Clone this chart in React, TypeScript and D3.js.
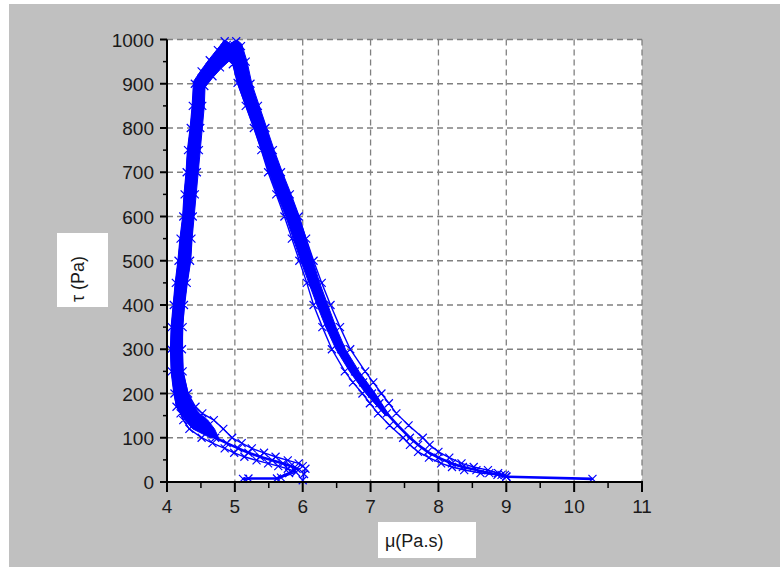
import React from "react";
import * as d3 from "d3";

// ---- data ----
const xTicks = [4, 5, 6, 7, 8, 9, 10, 11];
const xMinorTicks = [4.5, 5.5, 6.5, 7.5, 8.5, 9.5, 10.5];
const yTicks = [0, 100, 200, 300, 400, 500, 600, 700, 800, 900, 1000];
const yMinorTicks = [50, 150, 250, 350, 450, 550, 650, 750, 850, 950];
const xGrid = [5, 6, 7, 8, 9, 10, 11];
const yGrid = [100, 200, 300, 400, 500, 600, 700, 800, 900, 1000];

// outer boundary of the dense (solid) band of overlapping markers  [mu, tau]
const bandOuter: [number, number][] = [
  [4.64, 100], [4.38, 120], [4.26, 140], [4.20, 155],
  [4.14, 170], [4.10, 200], [4.06, 250], [4.05, 300], [4.06, 350], [4.09, 400], [4.12, 450],
  [4.16, 500], [4.19, 550], [4.23, 600], [4.25, 650], [4.28, 700], [4.30, 750], [4.34, 800],
  [4.37, 850], [4.39, 905], [4.50, 930], [4.62, 955], [4.74, 978], [4.85, 999], [4.93, 990],
  [5.03, 999], [5.10, 990], [5.18, 950], [5.25, 900], [5.36, 850], [5.47, 800], [5.58, 750],
  [5.70, 700], [5.83, 650], [5.95, 600], [6.05, 550], [6.15, 500], [6.25, 450], [6.37, 400],
  [6.49, 350], [6.63, 300], [6.83, 250], [7.07, 200], [7.28, 150],
];
// inner boundary of the same band (traversed back)  [mu, tau]
const bandInner: [number, number][] = [
  [7.22, 150], [6.93, 200],
  [6.69, 250], [6.49, 300], [6.34, 350], [6.21, 400], [6.09, 450], [5.97, 500], [5.86, 550],
  [5.75, 600], [5.62, 650], [5.50, 700], [5.39, 750], [5.28, 800], [5.16, 850], [5.04, 900],
  [4.97, 946], [4.92, 952], [4.80, 935], [4.68, 915], [4.56, 892], [4.55, 850], [4.52, 800],
  [4.49, 750], [4.46, 700], [4.43, 650], [4.40, 600], [4.37, 550], [4.35, 500], [4.30, 450],
  [4.26, 400], [4.23, 350], [4.23, 300], [4.24, 250], [4.31, 200], [4.40, 170],
  [4.48, 155], [4.60, 140], [4.70, 120], [4.76, 100],
];

// three measurement cycles (outer trace, core trace, inner trace)  [mu, tau]
const cycleOuter: [number, number][] = [
  [5.68, 10], [5.90, 22], [5.78, 30], [5.64, 36], [5.49, 42], [5.32, 49], [5.14, 57], [4.99, 66],
  [4.85, 76], [4.67, 88], [4.51, 100], [4.33, 120], [4.24, 140], [4.20, 155], [4.14, 170],
  [4.11, 200], [4.07, 250], [4.06, 300], [4.07, 350], [4.10, 400], [4.13, 450], [4.17, 500],
  [4.20, 550], [4.24, 600], [4.26, 650], [4.29, 700], [4.31, 750], [4.35, 800], [4.38, 850],
  [4.41, 900], [4.51, 928], [4.63, 953], [4.75, 976], [4.85, 996], [4.93, 988], [5.02, 996],
  [5.09, 985], [5.16, 950], [5.23, 900], [5.34, 850], [5.45, 800], [5.56, 750], [5.68, 700],
  [5.81, 650], [5.94, 600], [6.05, 550], [6.16, 500], [6.28, 450], [6.41, 400], [6.55, 350],
  [6.70, 300], [6.92, 250], [7.04, 225], [7.16, 200], [7.27, 178], [7.38, 155], [7.56, 128],
  [7.77, 100], [7.87, 84], [8.00, 68], [8.16, 55], [8.34, 42], [8.52, 34], [8.73, 27],
  [8.88, 20], [8.98, 16], [9.0, 12],
];
const cycleCore: [number, number][] = [
  [5.12, 7], [5.20, 8], [5.62, 8], [5.80, 20], [5.91, 30], [5.82, 36], [5.71, 42], [5.55, 49],
  [5.37, 57], [5.20, 66], [5.05, 76], [4.88, 88], [4.71, 100], [4.55, 120], [4.42, 140],
  [4.34, 155], [4.26, 170], [4.20, 200], [4.15, 250], [4.14, 300], [4.15, 350], [4.17, 400],
  [4.21, 450], [4.25, 500], [4.28, 550], [4.31, 600], [4.34, 650], [4.36, 700], [4.39, 750],
  [4.42, 800], [4.45, 850], [4.48, 900], [4.58, 924], [4.70, 948], [4.80, 970], [4.88, 988],
  [4.95, 975], [5.00, 985], [5.06, 960], [5.10, 930], [5.14, 900], [5.25, 850], [5.37, 800],
  [5.48, 750], [5.59, 700], [5.72, 650], [5.84, 600], [5.95, 550], [6.06, 500], [6.17, 450],
  [6.29, 400], [6.42, 350], [6.57, 300], [6.77, 250], [6.89, 225], [7.02, 200], [7.13, 178],
  [7.24, 155], [7.40, 128], [7.58, 100], [7.70, 84], [7.84, 68], [8.00, 55], [8.20, 42],
  [8.36, 34], [8.56, 27], [8.75, 20], [8.93, 16], [9.0, 12], [10.27, 7],
];
const cycleInner: [number, number][] = [
  [6.0, 4], [6.02, 18], [6.04, 30], [6.00, 36], [5.94, 42], [5.78, 49], [5.60, 57], [5.43, 66],
  [5.25, 76], [5.10, 88], [4.96, 100], [4.83, 120], [4.69, 140], [4.52, 155], [4.42, 170],
  [4.31, 200], [4.23, 250], [4.22, 300], [4.23, 350], [4.25, 400], [4.29, 450], [4.34, 500],
  [4.36, 550], [4.38, 600], [4.41, 650], [4.44, 700], [4.47, 750], [4.49, 800], [4.52, 850],
  [4.55, 895], [4.67, 917], [4.78, 937], [4.90, 955], [4.97, 944], [5.04, 902], [5.16, 850],
  [5.28, 800], [5.39, 750], [5.49, 700], [5.61, 650], [5.73, 600], [5.84, 550], [5.95, 500],
  [6.06, 450], [6.16, 400], [6.29, 350], [6.43, 300], [6.62, 250], [6.74, 225], [6.88, 200],
  [6.99, 178], [7.11, 155], [7.28, 128], [7.48, 100], [7.58, 84], [7.70, 68], [7.86, 55],
  [8.04, 42], [8.20, 34], [8.38, 27], [8.62, 20], [8.87, 16], [9.0, 12],
];
const cycles = [cycleOuter, cycleCore, cycleInner];

const xLabel = "μ(Pa.s)";
const yLabel = "τ (Pa)";

// ---- layout ----
const W = 780;
const H = 568;
const left = 167;
const right = 642;
const top = 39.5;
const bottom = 482;
const BLUE = "#0000ff";
const FONT = "'Liberation Sans', Arial, sans-serif";

export default function App() {
  const x = d3.scaleLinear().domain([4, 11]).range([left, right]);
  const y = d3.scaleLinear().domain([0, 1000]).range([bottom, top]);

  const line = d3
    .line<[number, number]>()
    .x((d) => x(d[0]))
    .y((d) => y(d[1]));

  const bandPath = line([...bandOuter, ...bandInner]) + "Z";

  const marker = (d: [number, number]) => {
    const cx = x(d[0]);
    const cy = y(d[1]);
    const r = 4;
    return `M${cx - r},${cy - r}L${cx + r},${cy + r}M${cx - r},${cy + r}L${cx + r},${cy - r}`;
  };

  return (
    <svg
      width={W}
      height={H}
      style={{ position: "absolute", left: 0, top: 0, background: "#ffffff" }}
      xmlns="http://www.w3.org/2000/svg"
    >
      <rect x={9} y={4} width={W - 9} height={563} fill="#c0c0c0" />
      <rect x={left} y={top} width={right - left} height={bottom - top} fill="#ffffff" />

      {/* grid */}
      <g stroke="#808080" strokeWidth={1.3} strokeDasharray="6,4" fill="none">
        {xGrid.map((v) => (
          <line key={"gx" + v} x1={x(v)} x2={x(v)} y1={top} y2={bottom} />
        ))}
        {yGrid.map((v) => (
          <line key={"gy" + v} x1={left} x2={right} y1={y(v)} y2={y(v)} />
        ))}
      </g>

      {/* dense band of overlapping markers */}
      <path d={bandPath} fill={BLUE} stroke={BLUE} strokeWidth={1} />

      {/* cycles */}
      {cycles.map((c, i) => (
        <g key={"c" + i}>
          <path d={line(c) || ""} fill="none" stroke={BLUE} strokeWidth={i === 1 ? 2.6 : 1.4} />
          <path d={c.map(marker).join("")} fill="none" stroke={BLUE} strokeWidth={1.2} />
        </g>
      ))}

      {/* axes */}
      <g stroke="#000" fill="none">
        <line x1={left} x2={left} y1={top} y2={bottom + 1} strokeWidth={2} />
        <line x1={left - 1} x2={right + 1} y1={bottom} y2={bottom} strokeWidth={2} />
        {yTicks.map((v) => (
          <line key={"ty" + v} x1={left - 7} x2={left} y1={y(v)} y2={y(v)} strokeWidth={2} />
        ))}
        {yMinorTicks.map((v) => (
          <line key={"tym" + v} x1={left - 4} x2={left} y1={y(v)} y2={y(v)} strokeWidth={1.5} />
        ))}
        {xTicks.map((v) => (
          <line key={"tx" + v} x1={x(v)} x2={x(v)} y1={bottom} y2={bottom + 10} strokeWidth={2} />
        ))}
        {xMinorTicks.map((v) => (
          <line key={"txm" + v} x1={x(v)} x2={x(v)} y1={bottom} y2={bottom + 6} strokeWidth={1.5} />
        ))}
      </g>

      {/* tick labels */}
      <g fontFamily={FONT} fontSize={19} fill="#1a1a1a">
        {yTicks.map((v) => (
          <text key={"ly" + v} x={left - 13} y={y(v) + 7} textAnchor="end">
            {v}
          </text>
        ))}
        {xTicks.map((v) => (
          <text key={"lx" + v} x={x(v)} y={513} textAnchor="middle">
            {v}
          </text>
        ))}
      </g>

      {/* axis titles */}
      <rect x={57} y={233} width={51} height={74} fill="#ffffff" />
      <text
        transform="translate(78,279) rotate(-90)"
        textAnchor="middle"
        dominantBaseline="central"
        fontFamily={FONT}
        fontSize={18}
        fill="#1a1a1a"
      >
        {yLabel}
      </text>
      <rect x={378} y={522} width={98} height={36} fill="#ffffff" />
      <text x={385} y={547} fontFamily={FONT} fontSize={18} fill="#1a1a1a">
        {xLabel}
      </text>
    </svg>
  );
}
